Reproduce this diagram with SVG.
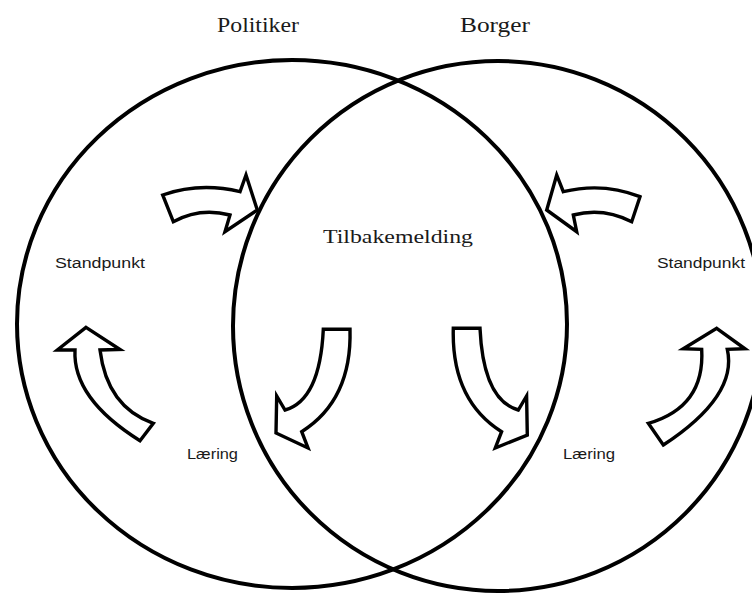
<svg xmlns="http://www.w3.org/2000/svg" width="752" height="595" viewBox="0 0 752 595">
<style>
.ring{fill:none;stroke:#000;stroke-width:4}
.arr{fill:#fff;stroke:#000;stroke-width:3.4;stroke-linejoin:miter}
.title{font-family:"Liberation Serif","DejaVu Serif",serif;font-size:20px;fill:#1a1a1a}
.center{font-family:"Liberation Serif","DejaVu Serif",serif;font-size:19px;fill:#1a1a1a}
.lbl{font-family:"Liberation Sans","DejaVu Sans",sans-serif;font-size:14px;fill:#1a1a1a}
</style>
<rect width="752" height="595" fill="#fff"/>
<g id="politiker">
<ellipse class="ring" cx="292" cy="324" rx="275" ry="264"/>
<text class="title" x="217" y="32" textLength="82" lengthAdjust="spacingAndGlyphs">Politiker</text>
</g>
<g id="borger">
<ellipse class="ring" cx="498" cy="326" rx="265" ry="265"/>
<text class="title" x="460" y="32" textLength="70" lengthAdjust="spacingAndGlyphs">Borger</text>
</g>
<g id="tilbakemelding">
<text class="center" x="323" y="243" textLength="150" lengthAdjust="spacingAndGlyphs">Tilbakemelding</text>
</g>
<g id="standpunkt-left">
<text class="lbl" x="55" y="268" textLength="90" lengthAdjust="spacingAndGlyphs">Standpunkt</text>
</g>
<g id="standpunkt-right">
<text class="lbl" x="657" y="268" textLength="88" lengthAdjust="spacingAndGlyphs">Standpunkt</text>
</g>
<g id="laering-left">
<text class="lbl" x="187" y="459" textLength="51" lengthAdjust="spacingAndGlyphs">Læring</text>
</g>
<g id="laering-right">
<text class="lbl" x="563" y="459" textLength="52" lengthAdjust="spacingAndGlyphs">Læring</text>
</g>
<g id="connectors">
<path class="arr" d="M162.7,195 Q200,182 240,191.7 L246,175 L257.3,210 L225,231.7 L230,215 Q200,207 173.3,221.7 Z"/>
<path class="arr" d="M640,196.7 Q603,182 563.3,191.7 L556.7,175 L546.7,210 L576.7,231.7 L573.3,215 Q603,207 631.7,221.7 Z"/>
<path class="arr" d="M86,327.3 L120,349.5 L100,350 Q107,407 153.3,423.3 L140,440.7 Q72.5,398.5 75,350 L57.3,350 Z"/>
<path class="arr" d="M716.7,328.3 L745,348.8 L727.3,349.3 Q738,396 663.3,445 L648.3,423.3 Q705,407 701.7,349.3 L683.3,348.8 Z"/>
<path class="arr" d="M323.3,329.3 L350,329.3 Q352,400 301.7,431.7 L308,448 L276,433 L276.7,396 L285,410 Q320,400 323.3,329.3 Z"/>
<path class="arr" d="M453.3,328.3 L480,328.3 Q483.3,400 518.3,410 L526.6,396 L527.3,435 L495.3,448 L501.6,431.7 Q451.3,400 453.3,328.3 Z"/>
</g>
</svg>
